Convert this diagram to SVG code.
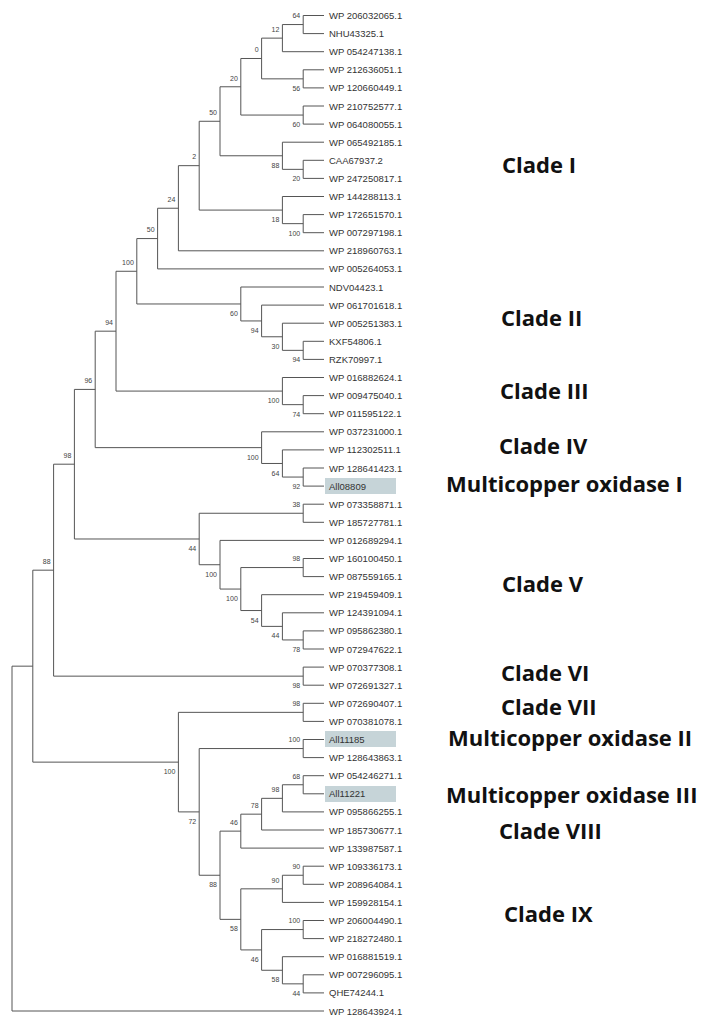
<svg xmlns="http://www.w3.org/2000/svg" width="705" height="1024" viewBox="0 0 705 1024">
<style>
.br{fill:none;stroke:#555;stroke-width:1}
.lf{font-family:"Liberation Sans",Arial,sans-serif;font-size:9.5px;fill:#333}
.bs{font-family:"Liberation Sans",Arial,sans-serif;font-size:7px;fill:#444;text-anchor:end}
.cl{font-family:"Open Sans","Liberation Sans",sans-serif;font-size:22px;font-weight:bold;fill:#111}
.hl{fill:#c6d4d8}
</style>
<rect width="705" height="1024" fill="#fff"/>
<g id="highlights">
<rect class="hl" x="325" y="478" width="71" height="16"/>
<rect class="hl" x="325" y="731" width="71" height="16"/>
<rect class="hl" x="325" y="786" width="71" height="16"/>
</g>
<g id="connectors">
<path class="br" d="M324 15.5 H303.2 V33.6 H324"/>
<path class="br" d="M303.2 24.55 H282.4 V51.7 H324"/>
<path class="br" d="M324 69.8 H303.2 V87.9 H324"/>
<path class="br" d="M282.4 38.125 H261.6 V78.85 H303.2"/>
<path class="br" d="M324 106 H303.2 V124.1 H324"/>
<path class="br" d="M261.6 58.49 H240.8 V115.05 H303.2"/>
<path class="br" d="M324 160.3 H303.2 V178.4 H324"/>
<path class="br" d="M324 142.2 H282.4 V169.35 H303.2"/>
<path class="br" d="M240.8 86.77 H220 V155.78 H282.4"/>
<path class="br" d="M324 214.6 H303.2 V232.7 H324"/>
<path class="br" d="M324 196.5 H282.4 V223.65 H303.2"/>
<path class="br" d="M220 121.27 H199.2 V210.08 H282.4"/>
<path class="br" d="M199.2 165.67 H178.4 V250.8 H324"/>
<path class="br" d="M178.4 208.24 H157.6 V268.9 H324"/>
<path class="br" d="M324 341.3 H303.2 V359.4 H324"/>
<path class="br" d="M324 323.2 H282.4 V350.35 H303.2"/>
<path class="br" d="M324 305.1 H261.6 V336.78 H282.4"/>
<path class="br" d="M324 287 H240.8 V320.94 H261.6"/>
<path class="br" d="M157.6 238.57 H136.8 V303.97 H240.8"/>
<path class="br" d="M324 395.6 H303.2 V413.7 H324"/>
<path class="br" d="M324 377.5 H282.4 V404.65 H303.2"/>
<path class="br" d="M136.8 271.27 H116 V391.08 H282.4"/>
<path class="br" d="M324 468 H303.2 V486.1 H324"/>
<path class="br" d="M324 449.9 H282.4 V477.05 H303.2"/>
<path class="br" d="M324 431.8 H261.6 V463.48 H282.4"/>
<path class="br" d="M116 331.18 H95.2 V447.64 H261.6"/>
<path class="br" d="M324 504.2 H303.2 V522.3 H324"/>
<path class="br" d="M324 558.5 H303.2 V576.6 H324"/>
<path class="br" d="M324 630.9 H303.2 V649 H324"/>
<path class="br" d="M324 612.8 H282.4 V639.95 H303.2"/>
<path class="br" d="M324 594.7 H261.6 V626.38 H282.4"/>
<path class="br" d="M303.2 567.55 H240.8 V610.54 H261.6"/>
<path class="br" d="M324 540.4 H220 V589.05 H240.8"/>
<path class="br" d="M303.2 513.25 H199.2 V564.73 H220"/>
<path class="br" d="M95.2 389.41 H74.4 V538.99 H199.2"/>
<path class="br" d="M324 667.1 H303.2 V685.2 H324"/>
<path class="br" d="M74.4 464.2 H53.6 V676.15 H303.2"/>
<path class="br" d="M324 703.3 H303.2 V721.4 H324"/>
<path class="br" d="M324 739.5 H303.2 V757.6 H324"/>
<path class="br" d="M324 775.7 H303.2 V793.8 H324"/>
<path class="br" d="M303.2 784.75 H282.4 V811.9 H324"/>
<path class="br" d="M282.4 798.33 H261.6 V830 H324"/>
<path class="br" d="M261.6 814.16 H240.8 V848.1 H324"/>
<path class="br" d="M324 866.2 H303.2 V884.3 H324"/>
<path class="br" d="M303.2 875.25 H282.4 V902.4 H324"/>
<path class="br" d="M324 920.5 H303.2 V938.6 H324"/>
<path class="br" d="M324 974.8 H303.2 V992.9 H324"/>
<path class="br" d="M324 956.7 H282.4 V983.85 H303.2"/>
<path class="br" d="M303.2 929.55 H261.6 V970.28 H282.4"/>
<path class="br" d="M282.4 888.83 H240.8 V949.91 H261.6"/>
<path class="br" d="M240.8 831.13 H220 V919.37 H240.8"/>
<path class="br" d="M303.2 748.55 H199.2 V875.25 H220"/>
<path class="br" d="M303.2 712.35 H178.4 V811.9 H199.2"/>
<path class="br" d="M53.6 570.18 H32.8 V762.13 H178.4"/>
<path class="br" d="M32.8 666.16 H12 V1011 H324"/>
</g>
<g id="bootstrap">
<text class="bs" x="300.2" y="18.3">64</text>
<text class="bs" x="279.4" y="31.8">12</text>
<text class="bs" x="300.2" y="90.9">56</text>
<text class="bs" x="258.6" y="52.2">0</text>
<text class="bs" x="300.2" y="127.1">60</text>
<text class="bs" x="237.8" y="80.5">20</text>
<text class="bs" x="300.2" y="181.4">20</text>
<text class="bs" x="279.4" y="167.8">88</text>
<text class="bs" x="217" y="115">50</text>
<text class="bs" x="300.2" y="235.7">100</text>
<text class="bs" x="279.4" y="222.1">18</text>
<text class="bs" x="196.2" y="159.4">2</text>
<text class="bs" x="175.4" y="202">24</text>
<text class="bs" x="154.6" y="232.3">50</text>
<text class="bs" x="300.2" y="362.4">94</text>
<text class="bs" x="279.4" y="348.8">30</text>
<text class="bs" x="258.6" y="332.9">94</text>
<text class="bs" x="237.8" y="316">60</text>
<text class="bs" x="133.8" y="265">100</text>
<text class="bs" x="300.2" y="416.7">74</text>
<text class="bs" x="279.4" y="403.1">100</text>
<text class="bs" x="113" y="324.9">94</text>
<text class="bs" x="300.2" y="489.1">92</text>
<text class="bs" x="279.4" y="475.5">64</text>
<text class="bs" x="258.6" y="459.6">100</text>
<text class="bs" x="92.2" y="383.1">96</text>
<text class="bs" x="300.2" y="507">38</text>
<text class="bs" x="300.2" y="561.3">98</text>
<text class="bs" x="300.2" y="652">78</text>
<text class="bs" x="279.4" y="638.4">44</text>
<text class="bs" x="258.6" y="622.5">54</text>
<text class="bs" x="237.8" y="601">100</text>
<text class="bs" x="217" y="576.7">100</text>
<text class="bs" x="196.2" y="551">44</text>
<text class="bs" x="71.4" y="457.9">98</text>
<text class="bs" x="300.2" y="688.2">98</text>
<text class="bs" x="50.6" y="563.9">88</text>
<text class="bs" x="300.2" y="706.1">98</text>
<text class="bs" x="300.2" y="742.3">100</text>
<text class="bs" x="300.2" y="778.5">68</text>
<text class="bs" x="279.4" y="792.1">98</text>
<text class="bs" x="258.6" y="807.9">78</text>
<text class="bs" x="237.8" y="824.9">46</text>
<text class="bs" x="300.2" y="869">90</text>
<text class="bs" x="279.4" y="882.6">90</text>
<text class="bs" x="300.2" y="923.3">100</text>
<text class="bs" x="300.2" y="995.9">44</text>
<text class="bs" x="279.4" y="982.3">58</text>
<text class="bs" x="258.6" y="961.9">46</text>
<text class="bs" x="237.8" y="931.4">58</text>
<text class="bs" x="217" y="887.3">88</text>
<text class="bs" x="196.2" y="823.9">72</text>
<text class="bs" x="175.4" y="774.1">100</text>
</g>
<g id="leaves">
<text class="lf" x="329" y="19">WP 206032065.1</text>
<text class="lf" x="329" y="37.1">NHU43325.1</text>
<text class="lf" x="329" y="55.2">WP 054247138.1</text>
<text class="lf" x="329" y="73.3">WP 212636051.1</text>
<text class="lf" x="329" y="91.4">WP 120660449.1</text>
<text class="lf" x="329" y="109.5">WP 210752577.1</text>
<text class="lf" x="329" y="127.6">WP 064080055.1</text>
<text class="lf" x="329" y="145.7">WP 065492185.1</text>
<text class="lf" x="329" y="163.8">CAA67937.2</text>
<text class="lf" x="329" y="181.9">WP 247250817.1</text>
<text class="lf" x="329" y="200">WP 144288113.1</text>
<text class="lf" x="329" y="218.1">WP 172651570.1</text>
<text class="lf" x="329" y="236.2">WP 007297198.1</text>
<text class="lf" x="329" y="254.3">WP 218960763.1</text>
<text class="lf" x="329" y="272.4">WP 005264053.1</text>
<text class="lf" x="329" y="290.5">NDV04423.1</text>
<text class="lf" x="329" y="308.6">WP 061701618.1</text>
<text class="lf" x="329" y="326.7">WP 005251383.1</text>
<text class="lf" x="329" y="344.8">KXF54806.1</text>
<text class="lf" x="329" y="362.9">RZK70997.1</text>
<text class="lf" x="329" y="381">WP 016882624.1</text>
<text class="lf" x="329" y="399.1">WP 009475040.1</text>
<text class="lf" x="329" y="417.2">WP 011595122.1</text>
<text class="lf" x="329" y="435.3">WP 037231000.1</text>
<text class="lf" x="329" y="453.4">WP 112302511.1</text>
<text class="lf" x="329" y="471.5">WP 128641423.1</text>
<text class="lf" x="329" y="489.6">All08809</text>
<text class="lf" x="329" y="507.7">WP 073358871.1</text>
<text class="lf" x="329" y="525.8">WP 185727781.1</text>
<text class="lf" x="329" y="543.9">WP 012689294.1</text>
<text class="lf" x="329" y="562">WP 160100450.1</text>
<text class="lf" x="329" y="580.1">WP 087559165.1</text>
<text class="lf" x="329" y="598.2">WP 219459409.1</text>
<text class="lf" x="329" y="616.3">WP 124391094.1</text>
<text class="lf" x="329" y="634.4">WP 095862380.1</text>
<text class="lf" x="329" y="652.5">WP 072947622.1</text>
<text class="lf" x="329" y="670.6">WP 070377308.1</text>
<text class="lf" x="329" y="688.7">WP 072691327.1</text>
<text class="lf" x="329" y="706.8">WP 072690407.1</text>
<text class="lf" x="329" y="724.9">WP 070381078.1</text>
<text class="lf" x="329" y="743">All11185</text>
<text class="lf" x="329" y="761.1">WP 128643863.1</text>
<text class="lf" x="329" y="779.2">WP 054246271.1</text>
<text class="lf" x="329" y="797.3">All11221</text>
<text class="lf" x="329" y="815.4">WP 095866255.1</text>
<text class="lf" x="329" y="833.5">WP 185730677.1</text>
<text class="lf" x="329" y="851.6">WP 133987587.1</text>
<text class="lf" x="329" y="869.7">WP 109336173.1</text>
<text class="lf" x="329" y="887.8">WP 208964084.1</text>
<text class="lf" x="329" y="905.9">WP 159928154.1</text>
<text class="lf" x="329" y="924">WP 206004490.1</text>
<text class="lf" x="329" y="942.1">WP 218272480.1</text>
<text class="lf" x="329" y="960.2">WP 016881519.1</text>
<text class="lf" x="329" y="978.3">WP 007296095.1</text>
<text class="lf" x="329" y="996.4">QHE74244.1</text>
<text class="lf" x="329" y="1014.5">WP 128643924.1</text>
</g>
<g id="clades">
<text class="cl" x="502" y="173">Clade I</text>
<text class="cl" x="501" y="326">Clade II</text>
<text class="cl" x="500" y="399">Clade III</text>
<text class="cl" x="499" y="454">Clade IV</text>
<text class="cl" x="446" y="492">Multicopper oxidase I</text>
<text class="cl" x="502" y="592">Clade V</text>
<text class="cl" x="501" y="681">Clade VI</text>
<text class="cl" x="501" y="715">Clade VII</text>
<text class="cl" x="448" y="746">Multicopper oxidase II</text>
<text class="cl" x="446" y="803">Multicopper oxidase III</text>
<text class="cl" x="499" y="839">Clade VIII</text>
<text class="cl" x="504" y="922">Clade IX</text>
</g>
</svg>
